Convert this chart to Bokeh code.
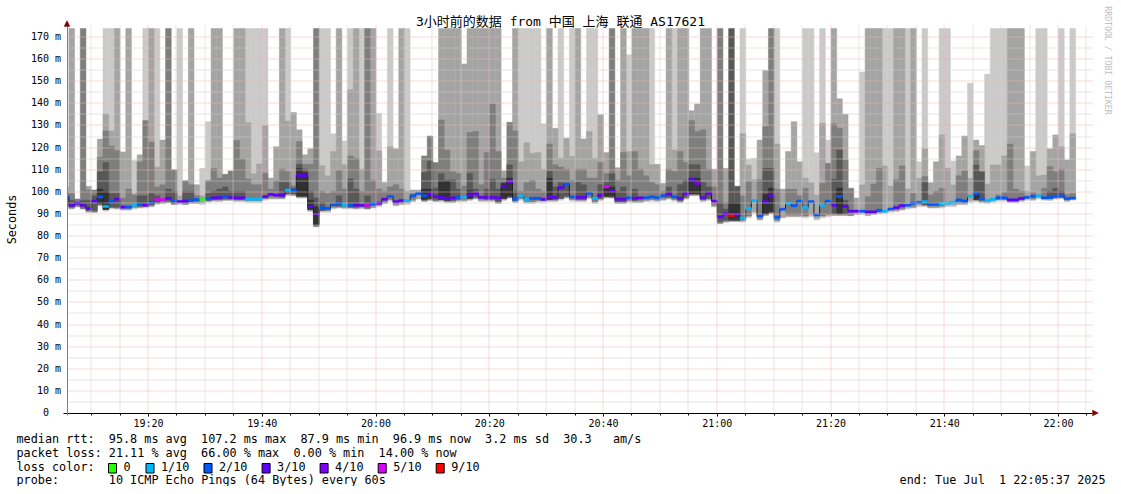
import math
from bokeh.plotting import figure
from bokeh.models import Range1d, FixedTicker, Label, BoxAnnotation, PolyAnnotation
from bokeh.embed import file_html
from bokeh.resources import INLINE

N = None
T = 180.0  # beyond the top of the chart (clipped)

# ---------------- data (one entry per 1-minute column, first column starts 19:05) -------------
START_MINUTE = 5  # minutes after 19:00

median_ms = [
    97.5, 93.7, 94.6, 93.7, 92.3, 95.6, 97.5, 93.2, 95.3, 96.5,
    92.9, 92.9, 93.8, 94.1, 93.8, 95.0, 96.2, 96.2, 96.8, 95.8,
    95.3, 95.6, 96.0, 96.2, 96.4, 96.6, 97.0, 97.2, 97.5, 97.2,
    97.0, 97.0, 96.5, 96.5, 96.5, 97.6, 98.6, 98.3, 98.3, 100.6,
    100.6, 107.1, 107.2, 93.1, 89.5, 92.5, 92.3, 94.0, 94.6, 93.8,
    93.7, 93.8, 93.7, 93.7, 94.3, 94.6, 96.5, 97.7, 95.3, 95.8,
    95.8, 98.0, 99.0, 98.0, 98.8, 97.6, 97.3, 96.8, 97.0, 97.3,
    97.5, 98.3, 99.0, 97.3, 97.3, 97.3, 97.0, 102.3, 104.4, 96.5,
    97.9, 96.4, 96.8, 96.8, 96.4, 97.5, 97.3, 101.7, 103.3, 97.5,
    97.3, 97.3, 99.1, 96.8, 98.2, 102.0, 100.3, 96.5, 96.5, 97.1,
    96.8, 97.0, 97.1, 97.5, 97.1, 98.0, 98.8, 97.5, 96.8, 99.0,
    105.4, 103.6, 97.1, 99.1, 95.6, 88.4, 89.8, 89.0, 89.3, 87.9,
    92.3, 95.8, 88.9, 95.3, 98.0, 88.2, 91.9, 94.6, 93.5, 95.6,
    92.6, 95.3, 89.3, 93.7, 95.6, 93.7, 97.7, 93.2, 91.0, 91.0,
    91.0, 90.7, 90.7, 91.4, 91.0, 92.0, 92.6, 93.5, 93.7, 94.6,
    95.0, 95.3, 94.1, 94.1, 94.4, 94.6, 95.0, 96.1, 95.6, 97.7,
    99.0, 96.7, 95.8, 96.4, 97.0, 97.0, 96.1, 96.1, 96.8, 97.3,
    97.8, 97.9, 97.0, 97.3, 97.8, 98.0, 96.7, 96.9,
]

loss_pings = [
    2, 3, 3, 3, 3, 3, 2, 1, 2, 3,
    3, 2, 1, 2, 3, 2, 5, 5, 3, 2,
    3, 3, 2, 2, 0, 2, 3, 3, 2, 3,
    3, 3, 1, 1, 1, 3, 3, 3, 3, 1,
    2, 3, 3, 3, 3, 2, 2, 2, 2, 1,
    2, 3, 3, 5, 2, 3, 3, 2, 3, 3,
    1, 2, 2, 2, 3, 3, 3, 3, 3, 2,
    1, 3, 3, 3, 3, 3, 3, 3, 4, 2,
    1, 1, 2, 2, 3, 3, 3, 3, 2, 2,
    3, 3, 2, 1, 3, 5, 3, 3, 3, 2,
    3, 3, 2, 2, 2, 2, 3, 2, 3, 3,
    3, 4, 3, 3, 3, 3, 3, 9, 3, 1,
    1, 1, 2, 3, 3, 2, 2, 1, 2, 2,
    1, 2, 2, 1, 2, 3, 2, 3, 3, 3,
    2, 3, 3, 2, 1, 2, 3, 3, 2, 2,
    2, 1, 2, 2, 1, 1, 1, 2, 2, 1,
    2, 2, 1, 1, 2, 2, 3, 3, 3, 2,
    2, 1, 2, 2, 2, 2, 2, 2,
]

# smoke bands: top of each band (outermost/lightest first); None = band not present
smoke1 = [
    N, N, N, N, N, N, N, T, T, N,
    N, N, 113.9, N, T, N, T, N, N, N,
    T, N, N, N, 110.4, 131.4, N, N, N, N,
    N, N, T, T, T, T, N, N, N, T,
    N, N, N, N, N, T, T, 126, N, 122.8,
    T, N, T, N, N, 135.3, N, T, N, N,
    T, N, N, N, N, N, N, N, N, N,
    N, N, N, N, N, N, N, N, N, N,
    T, T, T, T, 130.5, N, N, T, N, T,
    N, N, T, T, N, N, N, N, N, 161.7,
    N, N, N, T, N, N, N, T, N, N,
    N, N, N, N, N, N, N, N, N, T,
    114.5, 114.9, N, N, N, T, N, N, N, N,
    T, T, 117.4, T, 123.2, N, N, N, N, N,
    154, N, N, N, T, T, N, N, T, N,
    113.4, T, N, N, T, T, 113.7, N, N, 148.9,
    N, N, 153, T, T, T, N, N, N, 111.5,
    N, T, T, N, N, T, N, T,
]

smoke2 = [
    102, T, N, N, 102.3, N, 123.6, 135, 127.3, T,
    117.8, T, 99, 116.5, N, T, 111, 123.2, N, N,
    98, N, T, 103, 98, 105, T, T, N, N,
    T, T, 131, 108, 112.4, 129.6, 106, 120.2, T, 131.8,
    135.6, 127.8, 116.5, 119.2, N, 111.6, 107, 118, T, 112,
    145.9, T, 110, N, T, 118.3, 104, 120.2, 119.2, T,
    100, 100.6, 100.6, N, N, N, T, T, T, T,
    157.6, T, T, T, T, T, T, 109.2, N, T,
    113.4, 122, 117.2, 117.5, 110, T, 128.5, 115, 124, 115.7,
    T, 123.7, 127, 115, 134.6, 117.5, N, 110.7, T, 118,
    T, T, T, 112, 112.2, 103.6, T, 118.7, T, T,
    136.4, 139.5, T, T, 110, N, 110.4, N, N, 126,
    111.9, 105.2, 123.2, 154.6, N, 121.4, 101, 118, 131.5, 113.4,
    106, 103.8, 98.3, 130.8, N, T, 141.8, 134.9, N, 97,
    102.9, T, T, T, 111.5, 102.4, T, T, 101, T,
    105.9, 119.2, 103.9, 113.4, 125.5, 110.4, 102.9, 116, 125, 105.9,
    123.2, 120.7, 103.3, 111.9, 111.9, 116, T, T, T, 100,
    118, 107, 107.4, 119.2, 125.5, 120.2, 114.2, 126,
]

smoke3 = [
    99, 99, 96.5, T, 100.6, 100.6, 115.4, 127.3, 120.5, 118.4,
    97, 101, 98.3, 113.3, 132, 122.3, 102, 103, T, 109.7,
    N, 104.8, 103, 98, N, 104.7, 110.3, 106, 107.7, 109.2,
    123, 114.6, 105.6, 103, 103, 108.2, 101, 104.7, 110.1, 109,
    102.5, 122.5, 112.2, 112.2, T, 100, 99, 100, 109.4, 101,
    116, 115, 100, T, 105, 101, 100, 102, 103, 101,
    N, 99, N, 116, 125, 113, 132.3, 118.7, 108.9, 108.2,
    102.4, 126.6, 127, 103, 117.5, 139.5, 118, 106, 131.2, 127.3,
    100, 104, 105, 101, 100, 121.4, 112, 111, 110, 105,
    110, 110, 106, 106, 113, 108, T, 105, 117.5, 107,
    118, 110, 107, 104, 103, 100, 110, 109, 118, 113,
    132, 127, 127.8, 110, 102, T, 95, N, N, 98,
    104.4, N, 105.2, 129.3, T, 100.9, N, 101, 101, 98,
    101.4, N, N, 103.6, 112.7, 130.5, 128.5, 114.2, 101.4, N,
    N, 97.6, 103.3, 110.4, N, N, 105.2, 111.5, N, 99,
    N, 106.7, 98.3, 100, 101.4, N, N, 107, 109.2, N,
    118.3, N, N, N, 98.3, 99.5, 121.4, 101, 100, N,
    99.5, N, 101.4, 111.2, 108.9, 110, 98.5, 99,
]

smoke4 = [
    98, 96, N, 96, 96, 98, 108.8, 113, 99, 99,
    N, N, N, 98, 98, 99, 98, N, 101, 100,
    N, 100, 100, N, N, 99, 100, 101, 102, 100,
    100, 100, N, N, N, N, N, N, 104, 104,
    101.5, 112.2, 110, 100, 97, 95, N, N, 98, N,
    105.6, 101, N, 98, N, N, N, N, N, N,
    N, N, N, 108.5, 113.7, 101.5, 108, 105, 105.2, 101,
    N, 108.2, 101, N, 101, 105.5, 101, 104, 112, 100,
    N, N, N, N, N, 109.2, 102, 104, 103, N,
    104, 103, N, N, 103, 104, 108, 100, 102, N,
    101, N, N, N, N, N, 102, N, 103, 105,
    112, 112, 104, 102, N, 95, 92, T, 102.3, N,
    N, N, N, 110.4, 110.4, N, N, N, N, N,
    N, N, N, N, N, 105.5, 118.7, 96, N, N,
    N, N, N, N, N, N, N, N, N, N,
    N, 104, N, N, N, N, N, N, N, N,
    111.9, 108.9, N, N, N, N, N, N, N, N,
    N, N, N, 100, 101.4, 100, N, N,
]

smoke5 = [
    N, N, N, N, N, N, 101, 100, N, N,
    N, N, N, N, N, N, N, N, N, N,
    N, N, N, N, N, N, N, N, N, N,
    N, N, N, N, N, N, N, N, N, N,
    N, 110.4, 108.5, 96, 93, N, N, N, N, N,
    N, N, N, N, N, N, N, N, N, N,
    N, N, N, 101, 101, N, 104.7, 104.7, N, N,
    N, 100.4, N, N, N, N, N, 103.5, 106, N,
    N, N, N, N, N, 106, N, N, N, N,
    N, N, N, N, N, 101.5, 102, N, N, N,
    N, N, N, N, N, N, N, N, N, N,
    106, 106, N, N, N, N, N, 95, 95, N,
    N, N, N, 98.7, 101.5, N, N, N, N, N,
    N, N, N, N, N, N, 101.5, N, N, N,
    N, N, N, N, N, N, N, N, N, N,
    N, N, N, N, N, N, N, N, N, N,
    99.5, N, N, N, N, N, N, N, N, N,
    N, N, N, N, N, N, N, N,
]

smoke_low = [
    95.5, 92, 93, 92, 90.5, 90.5, 93.5, 91, 92, 92,
    91.5, 91.5, 92, 92.5, 92.5, 93, 94, 94.5, 95, 94,
    94, 94, 94.5, 94.5, 94, 95, 95.5, 95.5, 96, 96,
    95.5, 95.5, 95, 95, 95, 96, 96.5, 96.5, 96.5, 98,
    98, 97, 97, 91, 84, 90.5, 90.5, 92, 92.5, 92,
    92, 92, 92, 92, 92.5, 93, 94.5, 95.5, 93.5, 94,
    94, 95.5, 96.5, 95.5, 96, 95.5, 95.5, 95, 95, 95.5,
    95.5, 96, 96.5, 95.5, 95.5, 95.5, 94.5, 96, 97, 95,
    96, 94.5, 94.5, 95, 95, 95.5, 95.5, 96, 97, 95.5,
    95.5, 95.5, 96.5, 94.5, 96, 97, 97, 94.5, 94.5, 95,
    95, 95, 95.5, 95.5, 95.5, 96, 96.5, 95.5, 95, 96.5,
    98, 98, 95.5, 96, 93, 85.5, 86, 86.5, 86.5, 86,
    88, 90, 87, 89, 90, 86, 88, 88.5, 88.5, 88.5,
    88, 88.5, 87, 88, 88.5, 89, 89, 89, 89, 89.5,
    89.5, 89, 89.5, 90, 90, 90.5, 91, 91.5, 92, 92.5,
    93, 93, 92.5, 92.5, 92.5, 93, 93, 94, 94, 95,
    95.5, 95, 94.5, 95, 95.5, 95.5, 95, 95, 95.5, 96,
    96, 96.5, 96, 96, 96.5, 96.5, 95.5, 96,
]

x_tick_minutes = [20, 40, 60, 80, 100, 120, 140, 160, 180]
x_tick_labels = ["19:20", "19:40", "20:00", "20:20", "20:40", "21:00", "21:20", "21:40", "22:00"]
y_ticks = [0, 10, 20, 30, 40, 50, 60, 70, 80, 90, 100, 110, 120, 130, 140, 150, 160, 170]

loss_levels = [0, 1, 2, 3, 4, 5, 9]
loss_labels = ["0", "1/10", "2/10", "3/10", "4/10", "5/10", "9/10"]
loss_colors = ["#26ff00", "#00b8ff", "#0059ff", "#5e00ff", "#7e00ff", "#dd00ff", "#ff0000"]

title_text = "3小时前的数据 from 中国 上海 联通 AS17621"
rtt_row = [("median rtt:", 0), ("95.8 ms avg", 13), ("107.2 ms max", 26), ("87.9 ms min", 40),
           ("96.9 ms now", 53), ("3.2 ms sd", 66), ("30.3", 77), ("am/s", 84)]
loss_row = [("packet loss:", 0), ("21.11 % avg", 13), ("66.00 % max", 26), ("0.00 % min", 39),
            ("14.00 % now", 51)]
probe_row = [("probe:", 0), ("10 ICMP Echo Pings (64 Bytes) every 60s", 13)]
end_parts = [("end: Tue Jul", 0), ("1 22:05:37 2025", 14)]

# ---------------- layout helpers (picture pixel -> data) ----------------
PX_PER_MIN = 5.6875
PX_PER_MS = 2.2118
CHAR_W = 7.1
MONO = "DejaVu Sans Mono"


def dx(px):
    return 20 + (px - 148) / PX_PER_MIN


def dy(py):
    return (412 - py) / PX_PER_MS


W, H = 1113, 486
p = figure(width=W, height=H, output_backend="svg", toolbar_location=None,
           x_range=Range1d(dx(0), dx(W)), y_range=Range1d(dy(H), dy(0)), min_border=0)
p.outline_line_color = None
p.background_fill_color = "white"
p.border_fill_color = "white"
p.xgrid.visible = False
p.ygrid.visible = False

CLIP_TOP = dy(28)
CLIP_LEFT = dx(67)
SMOKE_COLORS = ["#cacaca", "#a4a4a4", "#7e7e7e", "#585858", "#323232"]
layers = [smoke1, smoke2, smoke3, smoke4, smoke5]
n = len(median_ms)

for k, (layer, col) in enumerate(zip(layers, SMOKE_COLORS)):
    L, R, B, TP = [], [], [], []
    for i in range(n):
        v = layer[i]
        if v is None:
            continue
        outer = all(layers[j][i] is None for j in range(k))
        bottom = smoke_low[i] if outer else smoke_low[i] + 0.8
        L.append(max(START_MINUTE + i, CLIP_LEFT))
        R.append(START_MINUTE + i + 1)
        B.append(bottom)
        TP.append(min(v, CLIP_TOP))
    p.quad(left=L, right=R, bottom=B, top=TP, fill_color=col, line_color=col, line_width=0.5)

# median line (black steps) and loss-coloured median band
xs = [max(START_MINUTE + i, CLIP_LEFT) for i in range(n + 1)]
ys = median_ms + [median_ms[-1]]
p.step(xs, ys, mode="after", line_color="#202020", line_width=1)

cmap = dict(zip(loss_levels, loss_colors))
mc = [cmap[l] for l in loss_pings]
p.quad(left=[max(START_MINUTE + i, CLIP_LEFT) for i in range(n)],
       right=[START_MINUTE + i + 1 for i in range(n)],
       bottom=[m - 0.5 for m in median_ms], top=[m + 0.5 for m in median_ms],
       fill_color=mc, line_color=mc, line_width=0.5)

# ---------------- grid (dotted, drawn over the smoke) ----------------
def ysnap(v):
    return dy(math.floor(412 - v * PX_PER_MS + 0.5) + 0.5)


def xsnap(m):
    return dx(math.floor(147.5 + (m - 20) * PX_PER_MIN) + 0.5)


x_minor = [m for m in range(10, 186, 5) if m % 20]
y_minor = [v for v in range(5, 175, 10)]
gx0, gx1 = dx(67), dx(1093)
gy0, gy1 = dy(412), dy(25)
MINOR_GRID = "#cfcfcf"
MAJOR_GRID = "#f3b3b3"
for vals, colr in ((y_minor, MINOR_GRID), (y_ticks[1:], MAJOR_GRID)):
    yy = [ysnap(v) for v in vals]
    p.segment(x0=[gx0] * len(yy), x1=[gx1] * len(yy), y0=yy, y1=yy,
              line_color=colr, line_width=1, line_dash="1 1")
for vals, colr in ((x_minor, MINOR_GRID), (x_tick_minutes, MAJOR_GRID)):
    xx = [xsnap(m) for m in vals]
    p.segment(x0=xx, x1=xx, y0=[gy0] * len(xx), y1=[gy1] * len(xx),
              line_color=colr, line_width=1, line_dash="1 1")

# ---------------- axes (library axes, pinned to the plot area) ----------------
p.xaxis.fixed_location = dy(412.5)
p.yaxis.fixed_location = dx(66.5)
p.xaxis.bounds = (dx(63), dx(1092))
p.yaxis.bounds = (dy(414.5), dy(22))
p.xaxis.ticker = FixedTicker(ticks=x_tick_minutes, minor_ticks=x_minor)
p.xaxis.major_label_overrides = {m: lab for m, lab in zip(x_tick_minutes, x_tick_labels)}
p.yaxis.ticker = FixedTicker(ticks=y_ticks, minor_ticks=[])
p.yaxis.major_label_overrides = {t: (f"{t} m" if t else "0\u00a0\u00a0") for t in y_ticks}

for ax in (p.xaxis[0], p.yaxis[0]):
    ax.major_label_text_font = MONO
    ax.major_label_text_font_size = "10px"
    ax.major_label_text_color = "#000000"
    ax.major_tick_in = 0
    ax.minor_tick_in = 0
p.xaxis.axis_line_color = "#000000"
p.xaxis.major_tick_line_color = "#000000"
p.xaxis.minor_tick_line_color = "#000000"
p.xaxis.major_tick_out = 3
p.xaxis.minor_tick_out = 2
p.xaxis.major_label_standoff = 2
p.yaxis.axis_line_color = "#808080"
p.yaxis.major_tick_out = 0
p.yaxis.minor_tick_out = 0
p.yaxis.major_label_standoff = 6

# axis arrows
p.add_layout(PolyAnnotation(xs=[dx(63.5), dx(69.5), dx(66.5)], ys=[dy(26), dy(26), dy(20)],
                            fill_color="#800000", fill_alpha=1, line_color="#800000", line_width=1))
p.add_layout(PolyAnnotation(xs=[dx(1092), dx(1092), dx(1098)], ys=[dy(409.5), dy(415.5), dy(412.5)],
                            fill_color="#800000", fill_alpha=1, line_color="#800000", line_width=1))

# ---------------- texts ----------------
def txt(x, y, s, size="11.8px", align="left", angle=0.0, color="#000000", font=MONO):
    p.add_layout(Label(x=x, y=y, text=s, text_font=font, text_font_size=size,
                       text_align=align, text_baseline="middle", angle=angle, text_color=color))


txt(dx(560), dy(21), title_text, size="13px", align="center", font="DejaVu Sans Mono, Noto Sans CJK SC")
txt(dx(11.5), dy(219), "Seconds", angle=math.pi / 2, align="center")
txt(dx(1107.5), dy(60), "RRDTOOL / TOBI OETIKER", size="8.2px", align="center",
    angle=-math.pi / 2, color="#c0c0c0")

for s, c in rtt_row:
    txt(dx(16 + c * CHAR_W), dy(438), s)
for s, c in loss_row:
    txt(dx(16 + c * CHAR_W), dy(452), s)
txt(dx(16), dy(466), "loss color:")
box_x = [108, 145.5, 203.5, 261.6, 319.6, 377.7, 435.7]
for bx, lab, colr in zip(box_x, loss_labels, loss_colors):
    p.add_layout(BoxAnnotation(left=dx(bx), right=dx(bx + 8), top=dy(463), bottom=dy(472.5),
                               fill_color=colr, fill_alpha=1, line_color="#000000", line_width=1,
                               line_alpha=1))
    txt(dx(bx + 15), dy(466), lab)
for s, c in probe_row:
    txt(dx(16 + c * CHAR_W), dy(479.5), s)
end_start = 1105 - 29 * CHAR_W
for s, c in end_parts:
    txt(dx(end_start + c * CHAR_W), dy(479.5), s)

open("out.html", "w").write(file_html(p, INLINE))
